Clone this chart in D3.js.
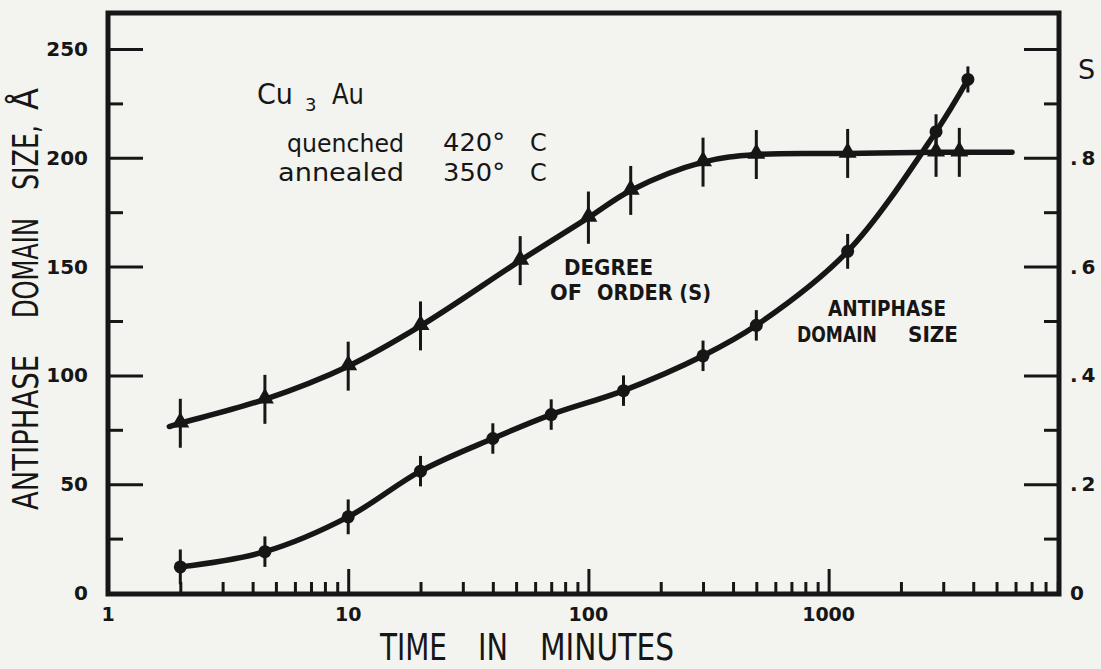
<!DOCTYPE html>
<html>
<head>
<meta charset="utf-8">
<script src="https://cdn.jsdelivr.net/npm/d3@7/dist/d3.min.js"></script>
<style>
  html, body { margin: 0; padding: 0; background: #f3f3ef; }
  svg { display: block; }
</style>
</head>
<body>
<svg id="chart" width="1101" height="669"></svg>
<script>
// ---------------- DATA ----------------
// Degree of order S (triangles), time in minutes
const orderTimes  = [2, 4.5, 10, 20, 52, 100, 150, 300, 500, 1200, 2800, 3500];
const orderValues = [0.312, 0.356, 0.417, 0.491, 0.611, 0.690, 0.740, 0.792, 0.806, 0.808, 0.810, 0.810];
const orderErrors = [0.045, 0.045, 0.045, 0.045, 0.045, 0.048, 0.045, 0.045, 0.045, 0.045, 0.045, 0.045];
// drawn curve extends a little beyond the first/last points
const orderCurveStart = [1.8, 0.306];
const orderCurveEnd   = [5800, 0.810];

// Antiphase domain size (circles), Angstrom
const sizeTimes  = [2, 4.5, 10, 20, 40, 70, 140, 300, 500, 1200, 2800, 3800];
const sizeValues = [12, 19, 35, 56, 71, 82, 93, 109, 123, 157, 212, 236];
const sizeErrors = [8, 7, 8, 7, 7, 7, 7, 7, 7, 8, 8, 6];

// axis ticks
const timeMajorTicks = [1, 10, 100, 1000];
const timeTickLabels = ["1", "10", "100", "1000"];
const sizeMajorTicks = [0, 50, 100, 150, 200, 250];
const sizeMinorTicks = [25, 75, 125, 175, 225];
const sMajorTicks = [0, 0.2, 0.4, 0.6, 0.8, 1.0];
const sTickLabels = ["0", ".2", ".4", ".6", ".8", ""];
const sMinorTicks = [0.1, 0.3, 0.5, 0.7, 0.9];

// axis titles, word by word (hand-lettered with wide gaps)
const yTitleWords = ["ANTIPHASE", "DOMAIN", "SIZE,", "Å"];
const xTitleWords = ["TIME", "IN", "MINUTES"];

// ---------------- LAYOUT ----------------
const INK = "#161616";
const frame = { left: 108, right: 1059, top: 13, bottom: 594 };
const svg = d3.select("#chart");

const x = d3.scaleLog().domain([1, 9100]).range([frame.left, frame.right]);
const y = d3.scaleLinear().domain([0, 250]).range([593, 49]);
const yS = d3.scaleLinear().domain([0, 1]).range([593, 49]);

const labelFont = "'DejaVu Sans', sans-serif";

function styleAxis(g, size, weight) {
  g.select(".domain").remove();
  g.selectAll(".tick line").attr("stroke", INK).attr("stroke-width", 3);
  g.selectAll(".tick text")
    .attr("fill", INK)
    .style("font-family", labelFont)
    .style("font-size", size + "px")
    .style("font-weight", weight);
}

// left axis
svg.append("g")
  .attr("transform", `translate(${frame.left},0)`)
  .call(d3.axisLeft(y).tickValues(sizeMajorTicks).tickSize(-35).tickSizeOuter(0).tickPadding(20))
  .call(g => styleAxis(g, 20, 600));
svg.append("g")
  .attr("transform", `translate(${frame.left},0)`)
  .call(d3.axisLeft(y).tickValues(sizeMinorTicks).tickSize(-15).tickSizeOuter(0).tickFormat(""))
  .call(g => styleAxis(g, 20, 600));

// right axis (S)
svg.append("g")
  .attr("transform", `translate(${frame.right},0)`)
  .call(d3.axisRight(yS).tickValues(sMajorTicks).tickSize(-35).tickSizeOuter(0).tickPadding(11)
        .tickFormat((d, i) => sTickLabels[i]))
  .call(g => styleAxis(g, 20, 600))
  .call(g => g.selectAll(".tick text").attr("text-anchor", "start").style("letter-spacing", "4px"));
svg.append("g")
  .attr("transform", `translate(${frame.right},0)`)
  .call(d3.axisRight(yS).tickValues(sMinorTicks).tickSize(-15).tickSizeOuter(0).tickFormat(""))
  .call(g => styleAxis(g, 20, 600));

// bottom axis
const minorTimeTicks = x.ticks().filter(t => !timeMajorTicks.includes(t) && t > 1);
svg.append("g")
  .attr("transform", `translate(0,${frame.bottom})`)
  .call(d3.axisBottom(x).tickValues(timeMajorTicks.slice(1)).tickSize(-25).tickSizeOuter(0).tickFormat(""))
  .call(g => styleAxis(g, 19, 600));
svg.append("g")
  .attr("transform", `translate(0,${frame.bottom})`)
  .call(d3.axisBottom(x).tickValues(minorTimeTicks).tickSize(-12).tickSizeOuter(0).tickFormat(""))
  .call(g => styleAxis(g, 19, 600));
// time labels
svg.append("g").selectAll("text")
  .data(timeMajorTicks)
  .join("text")
  .attr("x", d => x(d))
  .attr("y", 621)
  .attr("text-anchor", "middle")
  .attr("fill", INK)
  .style("font-family", labelFont)
  .style("font-size", "19px")
  .style("font-weight", 600)
  .text((d, i) => timeTickLabels[i]);

// frame
svg.append("rect")
  .attr("x", frame.left).attr("y", frame.top)
  .attr("width", frame.right - frame.left).attr("height", frame.bottom - frame.top)
  .attr("fill", "none").attr("stroke", INK).attr("stroke-width", 5);

// ---------------- CURVES ----------------
const line = d3.line().curve(d3.curveCatmullRom.alpha(0.5));

const orderPts = [orderCurveStart]
  .concat(orderTimes.map((t, i) => [t, orderValues[i]]))
  .concat([orderCurveEnd])
  .map(d => [x(d[0]), yS(d[1])]);
svg.append("path")
  .attr("d", line(orderPts))
  .attr("fill", "none").attr("stroke", INK)
  .attr("stroke-width", 5.5).attr("stroke-linecap", "round");

const sizePts = sizeTimes.map((t, i) => [x(t), y(sizeValues[i])]);
svg.append("path")
  .attr("d", line(sizePts))
  .attr("fill", "none").attr("stroke", INK)
  .attr("stroke-width", 5.5).attr("stroke-linecap", "round");

// error bars
svg.append("g").selectAll("line")
  .data(orderTimes.map((t, i) => ({ t, v: orderValues[i], e: orderErrors[i] })))
  .join("line")
  .attr("x1", d => x(d.t)).attr("x2", d => x(d.t))
  .attr("y1", d => yS(d.v - d.e)).attr("y2", d => yS(d.v + d.e))
  .attr("stroke", INK).attr("stroke-width", 3);
svg.append("g").selectAll("line")
  .data(sizeTimes.map((t, i) => ({ t, v: sizeValues[i], e: sizeErrors[i] })))
  .join("line")
  .attr("x1", d => x(d.t)).attr("x2", d => x(d.t))
  .attr("y1", d => y(d.v - d.e)).attr("y2", d => y(d.v + d.e))
  .attr("stroke", INK).attr("stroke-width", 3);

// markers
const tri = d3.symbol().type(d3.symbolTriangle).size(140);
svg.append("g").selectAll("path")
  .data(orderTimes.map((t, i) => [t, orderValues[i]]))
  .join("path")
  .attr("d", tri)
  .attr("transform", d => `translate(${x(d[0])},${yS(d[1]) - 1})`)
  .attr("fill", INK);
svg.append("g").selectAll("circle")
  .data(sizeTimes.map((t, i) => [t, sizeValues[i]]))
  .join("circle")
  .attr("cx", d => x(d[0])).attr("cy", d => y(d[1]))
  .attr("r", 6.5)
  .attr("fill", INK);

// ---------------- TEXT ----------------
function txt(str, xx, yy, size, opts = {}) {
  const t = svg.append("text")
    .attr("x", xx).attr("y", yy)
    .attr("fill", INK)
    .attr("text-anchor", opts.anchor || "start")
    .style("font-family", opts.font || labelFont)
    .style("font-size", size + "px")
    .style("font-weight", opts.weight || 400)
    .text(str);
  if (opts.len) t.attr("textLength", opts.len).attr("lengthAdjust", "spacingAndGlyphs");
  return t;
}

// Cu3Au label
txt("Cu", 257, 104, 28, { len: 36 });
txt("3", 305, 111, 18);
txt("Au", 332, 104, 28, { len: 32 });

txt("quenched", 287, 152, 24, { len: 117 });
txt("420°", 443, 151, 24, { len: 62 });
txt("C", 530, 151, 24);
txt("annealed", 278, 181, 24, { len: 126 });
txt("350°", 443, 181, 24, { len: 62 });
txt("C", 530, 181, 24);

txt("DEGREE", 564, 275, 22, { weight: 700, len: 89 });
txt("OF", 550, 300, 22, { weight: 700, len: 32 });
txt("ORDER (S)", 597, 300, 22, { weight: 700, len: 114 });
txt("ANTIPHASE", 828, 316, 22, { weight: 700, len: 118 });
txt("DOMAIN", 797, 342, 22, { weight: 700, len: 80 });
txt("SIZE", 908, 342, 22, { weight: 700, len: 50 });

// right axis title
txt("S", 1078, 79, 27);

// y-axis title (rotated, each word placed along the axis)
const yTitleSpans = [[510, 355], [318, 218], [190, 125], [110, 88]];
svg.append("g").selectAll("text")
  .data(yTitleWords)
  .join("text")
  .attr("transform", (d, i) => `translate(38,${yTitleSpans[i][0]}) rotate(-90)`)
  .attr("fill", INK)
  .attr("textLength", (d, i) => yTitleSpans[i][0] - yTitleSpans[i][1])
  .attr("lengthAdjust", "spacingAndGlyphs")
  .style("font-family", labelFont)
  .style("font-size", "36px")
  .text(d => d);

// x-axis title
const xTitleSpans = [[380, 447], [478, 508], [540, 674]];
svg.append("g").selectAll("text")
  .data(xTitleWords)
  .join("text")
  .attr("x", (d, i) => xTitleSpans[i][0])
  .attr("y", 660)
  .attr("fill", INK)
  .attr("textLength", (d, i) => xTitleSpans[i][1] - xTitleSpans[i][0])
  .attr("lengthAdjust", "spacingAndGlyphs")
  .style("font-family", labelFont)
  .style("font-size", "37px")
  .text(d => d);
</script>
</body>
</html>
